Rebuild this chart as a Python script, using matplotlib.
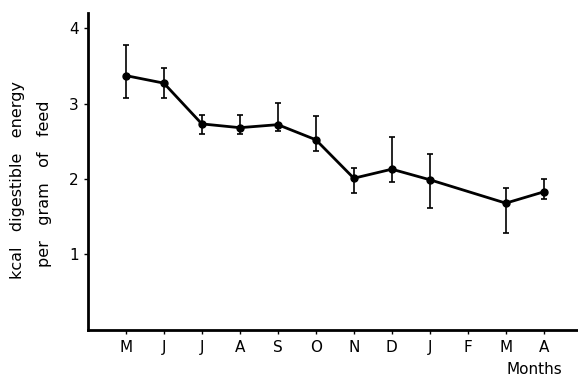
import matplotlib.pyplot as plt
import numpy as np

months = ['M', 'J', 'J', 'A', 'S', 'O', 'N', 'D', 'J', 'F', 'M', 'A']
x_pos = [1, 2, 3, 4, 5, 6, 7, 8, 9, 11, 12]   # no value for F
energy = [3.37, 3.27, 2.73, 2.68, 2.72, 2.52, 2.01, 2.13, 1.99, 1.68, 1.83]
err_low = [3.07, 3.07, 2.60, 2.60, 2.63, 2.37, 1.81, 1.96, 1.61, 1.29, 1.73]
err_high = [3.77, 3.47, 2.85, 2.85, 3.01, 2.83, 2.15, 2.55, 2.33, 1.88, 2.00]

yerr = [np.array(energy) - np.array(err_low), np.array(err_high) - np.array(energy)]

fig = plt.figure(figsize=(5.78, 3.81), dpi=100)
ax = fig.add_axes([0.152, 0.134, 0.848, 0.832])

ax.errorbar(x_pos, energy, yerr=yerr, color='black', lw=2, marker='o', ms=5,
            ecolor='black', elinewidth=1.2, capsize=2.5, capthick=1.2)

ax.set_xlim(0, 12.9)
ax.set_ylim(0, 4.2)
ax.set_xticks(range(1, 13))
ax.set_xticklabels(months)
ax.set_yticks([1, 2, 3, 4])
ax.spines['top'].set_visible(False)
ax.spines['right'].set_visible(False)
ax.spines['left'].set_linewidth(2)
ax.spines['bottom'].set_linewidth(2)
ax.tick_params(axis='both', labelsize=11, length=3, width=1)
ax.tick_params(axis='x', pad=4)

# two-line y label, placed by hand for the wide spacing
fig.text(18 / 578, 0.527, 'kcal   digestible   energy', fontsize=11.5,
         rotation=90, ha='center', va='center')
fig.text(45 / 578, 0.519, 'per   gram   of   feed', fontsize=11.5,
         rotation=90, ha='center', va='center')
fig.text(0.925, 0.018, 'Months', fontsize=11, ha='center')

fig.savefig('out.png', dpi=100)
